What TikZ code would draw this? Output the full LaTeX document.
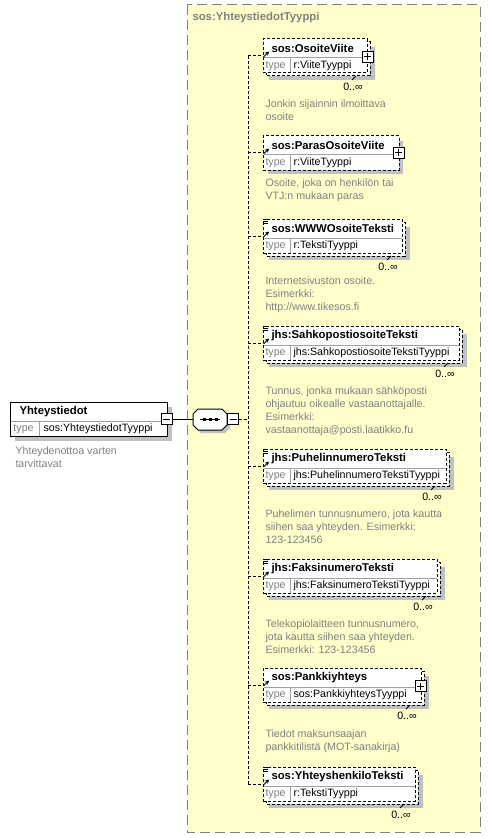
\documentclass[tikz,border=0pt]{standalone}
\usepackage{fontspec}
\setmainfont{Liberation Sans}
\usepackage{tikz}
\usetikzlibrary{arrows.meta}

\definecolor{seqyellow}{RGB}{255,255,204}
\definecolor{docgray}{RGB}{128,128,128}
\definecolor{linegray}{RGB}{160,160,160}
\definecolor{shadowgray}{RGB}{192,192,192}

% element box: name, top, right, label, type
\newcommand{\frontbox}[5]{%
  \node[elbox, minimum width={(#3-263)*0.75pt}, minimum height={34*0.75pt}, anchor=north west] (#1) at (263,#2) {};
  \draw[rowline] (263.5,#2+19) -- (#3-0.5,#2+19);
  \draw[rowline] (290,#2+19) -- (290,#2+33.5);
  \node[elname, anchor=west] (#1-n) at (271,#2+9.5) {#4};
  \node[eltype, anchor=west] (#1-t) at (265,#2+27) {type};
  \node[eltxt, anchor=west] (#1-v) at (293,#2+27) {#5};
  \draw[-{Stealth[length=3pt,width=3pt]}] (263.5,#2+18) -- (269,#2+12.5);
}
\newcommand{\multielem}[5]{%
  \fill[shadowfill] (269,#2+8) rectangle (#3+8,#2+41);
  \draw[elbox] (266,#2+3) rectangle (#3+3,#2+37);
  \frontbox{#1}{#2}{#3}{#4}{#5}
  \draw (#3-11,#2+37) -- (#3-15,#2+41);
  \node[eltxt] (#1-c) at (#3-14,#2+48) {0..∞};
}
\newcommand{\singleelem}[5]{%
  \fill[shadowfill] (268,#2+5) rectangle (#3+4,#2+38);
  \frontbox{#1}{#2}{#3}{#4}{#5}
}
\newcommand{\plusmark}[3]{%
  \node[pmbox] (#1-p) at (#2,#3) {};
  \draw (#2-3.5,#3) -- (#2+3.5,#3) (#2,#3-3.5) -- (#2,#3+3.5);
}
\newcommand{\listmark}[1]{%
  \draw (263,#1+0.5) -- (268,#1+0.5) (263,#1+2.5) -- (268,#1+2.5) (263,#1+4.5) -- (268,#1+4.5);
}

\begin{document}
\begin{tikzpicture}[x=0.75pt,y=0.75pt,yscale=-1,xscale=1,line width=0.75pt,
  elbox/.style={draw, dash pattern=on 2.25pt off 1.5pt, fill=white, inner sep=0pt, outer sep=0pt},
  mainbox/.style={draw, fill=white, inner sep=0pt, outer sep=0pt},
  rowline/.style={linegray},
  conn/.style={dash pattern=on 2.25pt off 1.5pt},
  pmbox/.style={draw, fill=white, inner sep=0pt, outer sep=0pt, minimum size=8.25pt},
  elname/.style={inner sep=0pt, font=\fontsize{8.5}{10}\selectfont\bfseries},
  eltxt/.style={inner sep=0pt, font=\fontsize{8}{9.75}\selectfont},
  eltype/.style={eltxt, text=docgray},
  doctxt/.style={eltxt, text=docgray, align=left, anchor=north west},
  shadowfill/.style={fill=shadowgray}]
\useasboundingbox (0,0) rectangle (491,838);

% complex type area
\draw[fill=seqyellow, draw=docgray, dash pattern=on 7.5pt off 3.75pt] (187,5) rectangle (480,832);
\node[elname, text=docgray, anchor=west] (ctype) at (192,18) {sos:YhteystiedotTyyppi};

% Yhteystiedot
\fill[shadowfill] (15,407) rectangle (172,441);
\node[mainbox, minimum width={157*0.75pt}, minimum height={34*0.75pt}, anchor=north west] (tiedot) at (10,402) {};
\draw[rowline] (10.5,421) -- (166.5,421);
\draw[rowline] (39,421) -- (39,435.5);
\node[elname, anchor=west] (tiedot-n) at (19,411.5) {Yhteystiedot};
\node[eltype, anchor=west] (tiedot-t) at (13,429) {type};
\node[eltxt, anchor=west] (tiedot-v) at (43,429) {sos:YhteystiedotTyyppi};
\node[pmbox] (tiedot-m) at (166.5,419) {};
\draw (163,419) -- (170,419);
\node[doctxt] (tiedot-d) at (15,446.5) {Yhteydenottoa varten\\tarvittavat};

% sequence
\fill[shadowfill] (196,417) -- (201,412) -- (225,412) -- (230,417) -- (230,428) -- (225,433) -- (201,433) -- (196,428) -- cycle;
\draw[fill=white] (193,414) -- (198,409) -- (222,409) -- (227,414) -- (227,425) -- (222,430) -- (198,430) -- (193,425) -- cycle;
\node[inner sep=0pt, minimum width=25.5pt, minimum height=15.75pt] (seq) at (210,419) {};
\draw (200,419) -- (220,419);
\fill (202.5,417.5) rectangle (205.5,420.5);
\fill (208.5,417.5) rectangle (211.5,420.5);
\fill (214.5,417.5) rectangle (217.5,420.5);
\node[pmbox] (seq-m) at (233,419) {};
\draw (229.5,419) -- (236.5,419);
\draw (tiedot-m.east) -- (seq.west);
\coordinate (bus) at (248,419);
\draw[conn] (seq-m.east) -- (bus);

% child elements
\multielem{osoite}{39}{367}{sos:OsoiteViite}{r:ViiteTyyppi}
\plusmark{osoite}{367.5}{57}
\node[doctxt] (osoite-d) at (265,99.5) {Jonkin sijainnin ilmoittava\\osoite};

\singleelem{paras}{136}{399}{sos:ParasOsoiteViite}{r:ViiteTyyppi}
\plusmark{paras}{398.5}{153}
\node[doctxt] (paras-d) at (265,178.5) {Osoite, joka on henkilön tai\\VTJ:n mukaan paras};

\multielem{www}{219}{402}{sos:WWWOsoiteTeksti}{r:TekstiTyyppi}
\listmark{219}
\node[doctxt] (www-d) at (265,276.5) {Internetsivuston osoite.\\Esimerkki:\\http://www.tikesos.fi};

\multielem{sahko}{326}{459}{jhs:SahkopostiosoiteTeksti}{jhs:SahkopostiosoiteTekstiTyyppi}
\listmark{326}
\node[doctxt] (sahko-d) at (265,386.5) {Tunnus, jonka mukaan sähköposti\\ohjautuu oikealle vastaanottajalle.\\Esimerkki:\\vastaanottaja@posti.laatikko.fu};

\multielem{puhelin}{449}{446}{jhs:PuhelinnumeroTeksti}{jhs:PuhelinnumeroTekstiTyyppi}
\listmark{449}
\node[doctxt] (puhelin-d) at (265,509.5) {Puhelimen tunnusnumero, jota kautta\\siihen saa yhteyden. Esimerkki:\\123-123456};

\multielem{faksi}{559}{437}{jhs:FaksinumeroTeksti}{jhs:FaksinumeroTekstiTyyppi}
\listmark{559}
\node[doctxt] (faksi-d) at (265,619.5) {Telekopiolaitteen tunnusnumero,\\jota kautta siihen saa yhteyden.\\Esimerkki: 123-123456};

\multielem{pankki}{668}{421}{sos:Pankkiyhteys}{sos:PankkiyhteysTyyppi}
\plusmark{pankki}{420.5}{686}
\node[doctxt] (pankki-d) at (265,729.5) {Tiedot maksunsaajan\\pankkitilistä (MOT-sanakirja)};

\multielem{yhteys}{767}{415}{sos:YhteyshenkiloTeksti}{r:TekstiTyyppi}
\listmark{767}

% connectors
\draw[conn] (bus |- osoite.west) -- (bus |- yhteys.west);
\draw[conn] (bus |- osoite.west) -- (osoite.west);
\draw[conn] (bus |- paras.west) -- (paras.west);
\draw[conn] (bus |- www.west) -- (www.west);
\draw[conn] (bus |- sahko.west) -- (sahko.west);
\draw[conn] (bus |- puhelin.west) -- (puhelin.west);
\draw[conn] (bus |- faksi.west) -- (faksi.west);
\draw[conn] (bus |- pankki.west) -- (pankki.west);
\draw[conn] (bus |- yhteys.west) -- (yhteys.west);

\end{tikzpicture}
\end{document}
